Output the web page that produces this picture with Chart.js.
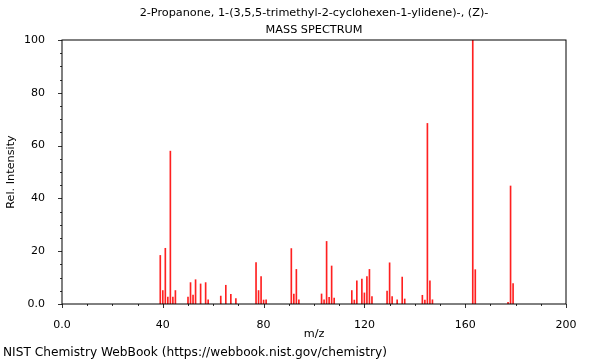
<!DOCTYPE html>
<html>
<head>
<meta charset="utf-8">
<script src="https://cdn.jsdelivr.net/npm/chart.js@4/dist/chart.umd.min.js"></script>
<style>
  html, body { margin: 0; padding: 0; background: #fff; }
  #wrap { width: 600px; height: 360px; }
</style>
</head>
<body>
<div id="wrap"><canvas id="ms"></canvas></div>
<script>
// m/z values and relative intensities
const mzValues = [39, 40, 41, 42, 43, 44, 45, 50, 51, 52, 53, 55, 57, 58, 63, 65, 67, 69,
    77, 78, 79, 80, 81, 91, 92, 93, 94, 103, 104, 105, 106, 107, 108, 115, 116, 117, 119,
    120, 121, 122, 123, 129, 130, 131, 133, 135, 136, 143, 144, 145, 146, 147, 163, 164,
    177, 178, 179];
const intensities = [18.4, 5.1, 21.1, 2.6, 57.9, 2.6, 5.1, 2.6, 8.1, 3.4, 9.2, 7.6, 8.1, 1.6,
    3.0, 7.1, 3.7, 2.1, 15.7, 5.1, 10.4, 1.5, 1.6, 21.0, 3.8, 13.1, 1.6, 3.8, 1.6, 23.7, 2.5,
    14.4, 2.2, 5.1, 1.5, 8.8, 9.4, 4.2, 10.4, 13.1, 2.8, 4.9, 15.6, 2.8, 1.6, 10.2, 1.9, 3.3,
    1.5, 68.4, 8.8, 1.6, 100, 13.0, 0.6, 44.7, 7.7];

const xLabelTicks = [0, 40, 80, 120, 160, 200];
const yLabelTicks = [0, 20, 40, 60, 80, 100];

const titleLines = ['2-Propanone, 1-(3,5,5-trimethyl-2-cyclohexen-1-ylidene)-, (Z)-', 'MASS SPECTRUM'];
const footerText = 'NIST Chemistry WebBook (https://webbook.nist.gov/chemistry)';

const FONT = "'DejaVu Sans', sans-serif";
const TEXT_SIZE = 11.25;

function fmtTick(v) {
    return v === 0 ? '0.0' : String(v);
}

// frame, tick marks and free texts
const decorPlugin = {
    id: 'decor',
    afterDraw(chart) {
        const ctx = chart.ctx;
        const { left, right, top, bottom } = chart.chartArea;
        const xs = chart.scales.x;
        const ys = chart.scales.y;
        ctx.save();

        ctx.strokeStyle = '#333';
        ctx.lineWidth = 1;
        for (let v = 0; v <= 200; v += 10) {
            const px = Math.round(xs.getPixelForValue(v)) + 0.5;
            const len = xLabelTicks.includes(v) ? 4 : 2;
            ctx.beginPath();
            ctx.moveTo(px, bottom);
            ctx.lineTo(px, bottom + len);
            ctx.stroke();
        }
        for (let v = 0; v <= 100; v += 5) {
            const py = Math.round(ys.getPixelForValue(v)) + 0.5;
            const len = yLabelTicks.includes(v) ? 4 : 2;
            ctx.beginPath();
            ctx.moveTo(left, py);
            ctx.lineTo(left - len, py);
            ctx.stroke();
        }

        ctx.strokeStyle = '#000';
        ctx.strokeRect(left, top, right - left, bottom - top);

        ctx.fillStyle = '#000';
        ctx.font = TEXT_SIZE + 'px ' + FONT;
        ctx.textAlign = 'center';
        ctx.textBaseline = 'middle';
        ctx.fillText(titleLines[0], 314, 13);
        ctx.fillText(titleLines[1], 314, 30);

        ctx.font = '12.2px ' + FONT;
        ctx.textAlign = 'left';
        ctx.fillText(footerText, 3, 353);
        ctx.restore();
    }
};

new Chart(document.getElementById('ms'), {
    type: 'bar',
    data: {
        datasets: [{
            data: mzValues.map((m, i) => ({ x: m, y: intensities[i] })),
            backgroundColor: '#ff2020',
            borderWidth: 0,
            barThickness: 1,
            grouped: false
        }]
    },
    options: {
        responsive: true,
        maintainAspectRatio: false,
        animation: false,
        devicePixelRatio: 1,
        layout: { padding: { top: 40, right: 34, left: 0, bottom: 0 } },
        plugins: {
            legend: { display: false },
            tooltip: { enabled: false }
        },
        scales: {
            x: {
                type: 'linear',
                min: 0,
                max: 200,
                offset: false,
                grid: { display: false },
                border: { display: false },
                ticks: {
                    stepSize: 40,
                    autoSkip: false,
                    maxRotation: 0,
                    padding: 7,
                    color: '#000',
                    font: { family: FONT, size: 11 },
                    callback: v => fmtTick(v)
                },
                title: {
                    display: true,
                    text: 'm/z',
                    color: '#000',
                    font: { family: FONT, size: TEXT_SIZE },
                    padding: { top: 4, bottom: 19 }
                },
                afterFit: scale => { scale.height = 56; }
            },
            y: {
                min: 0,
                max: 100,
                grid: { display: false },
                border: { display: false },
                ticks: {
                    stepSize: 20,
                    padding: 9,
                    color: '#000',
                    font: { family: FONT, size: 11 },
                    callback: v => fmtTick(v)
                },
                title: {
                    display: true,
                    text: 'Rel. Intensity',
                    color: '#000',
                    font: { family: FONT, size: TEXT_SIZE },
                    padding: { top: 4, bottom: 0 }
                },
                afterFit: scale => { scale.width = 62; }
            }
        }
    },
    plugins: [decorPlugin]
});
</script>
</body>
</html>
